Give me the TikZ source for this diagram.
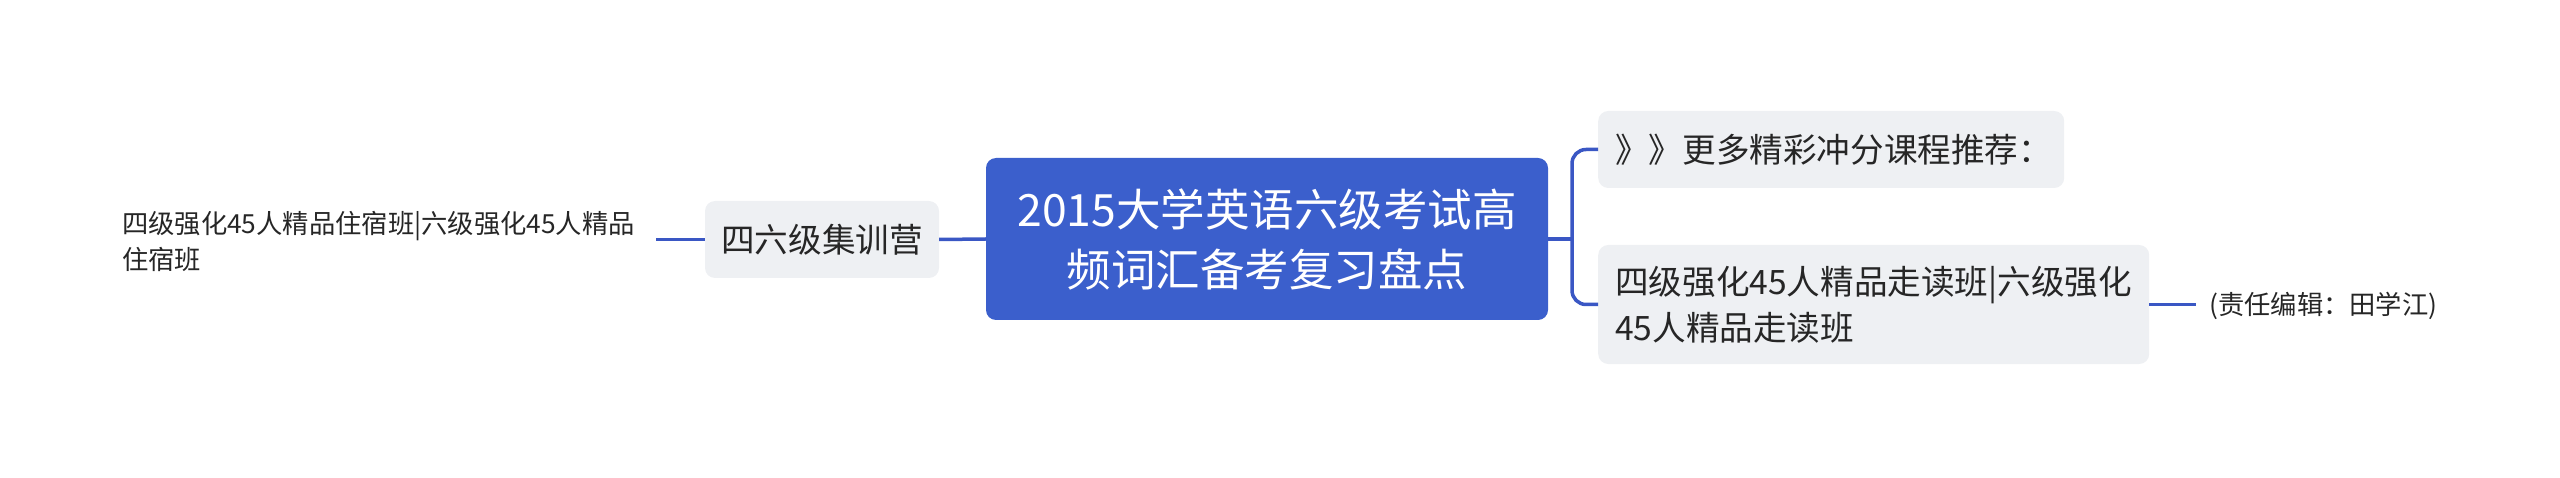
\documentclass[tikz,border=0pt]{standalone}
\usepackage{fontspec}
\setmainfont{Noto Sans CJK SC}
\definecolor{mainblue}{HTML}{3B5FCC}
\definecolor{linkblue}{HTML}{3A57C4}
\definecolor{subgray}{HTML}{EEF0F3}
\definecolor{txt}{HTML}{262626}
\begin{document}
\begin{tikzpicture}[x=1pt,y=-1pt,
  centralbox/.style={fill=mainblue, rounded corners=10pt, text=white, align=center, inner sep=0pt,
    font=\fontsize{44.5}{60}\selectfont},
  subbox/.style={fill=subgray, rounded corners=10pt, text=txt, align=left, inner sep=0pt,
    font=\fontsize{33.6}{46}\selectfont},
  leaftext/.style={text=txt, align=left, inner sep=0pt, font=\fontsize{26.3}{36}\selectfont},
  conn/.style={draw=linkblue, line width=3.5pt}
]
\useasboundingbox (0,0) rectangle (2560,478);
\node[centralbox, minimum width=562pt, minimum height=162pt] (c) at (1267,239) {2015大学英语六级考试高\\频词汇备考复习盘点};
\node[subbox, minimum width=234pt, minimum height=77pt, align=center] (l) at (822,239.5) {四六级集训营};
\node[leaftext, anchor=west] (ll) at (122,241) {四级强化45人精品住宿班|六级强化45人精品\\住宿班};
\node[subbox, minimum width=466pt, minimum height=77pt, anchor=west, text width=432pt, inner xsep=17pt] (t) at (1598,149.5) {》》更多精彩冲分课程推荐：};
\node[subbox, minimum width=551pt, minimum height=119pt, anchor=west, text width=517pt, inner xsep=17pt] (b) at (1598,304.5) {四级强化45人精品走读班|六级强化\\45人精品走读班};
\node[leaftext, anchor=west] (rl) at (2209,306) {(责任编辑：田学江)};
\coordinate (j) at (1572,239);
\coordinate (lle) at (656,239.5);
\coordinate (rle) at (2196,304.5);
\draw[conn] (c.east) -- (j);
\draw[conn, rounded corners=14pt] (t.west) -- (j |- t.west) -- (j |- b.west) -- (b.west);
\draw[conn] (c.west) -- (l.east);
\draw[conn] (l.west) -- (lle);
\draw[conn] (b.east) -- (rle);
\end{tikzpicture}
\end{document}
